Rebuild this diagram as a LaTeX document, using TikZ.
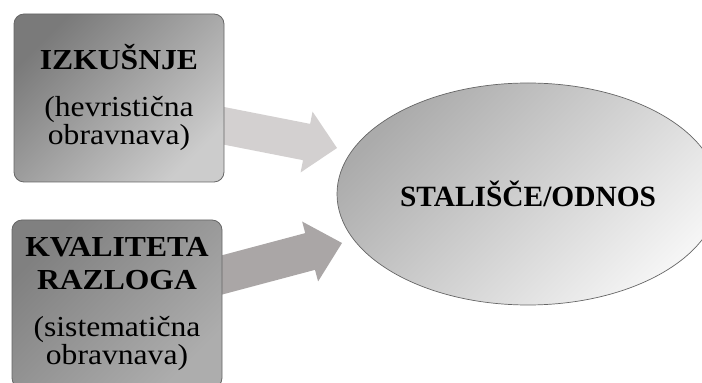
\documentclass[tikz,border=0pt]{standalone}
\usepackage{fontspec}
\setmainfont{Liberation Serif}
\newfontfamily\boxfont[FakeStretch=1.09]{Liberation Serif}
\usetikzlibrary{shapes.geometric}
\begin{document}
\begin{tikzpicture}[x=1pt,y=1pt]
\tikzset{
  card/.style={rounded corners=10pt, draw=black!60, line width=0.8pt,
    minimum width=210pt, minimum height=168pt, inner sep=0pt, align=center,
    font=\boxfont\fontsize{29}{28}\selectfont},
  cardA/.style={card, top color=black!52, bottom color=black!20, shading angle=45},
  cardB/.style={card, top color=black!50, bottom color=black!32, shading angle=45},
  oval/.style={ellipse, draw=black!60, line width=0.7pt, minimum width=382pt,
    minimum height=222pt, inner sep=0pt,
    font=\bfseries\fontsize{29.4}{28}\selectfont,
    top color=black!33, bottom color=black!4, shading angle=45},
}
\useasboundingbox (0,0) rectangle (702,383);
\clip (0,0) rectangle (702,383);

% block arrows, drawn first so the boxes cover their tails
\coordinate (tipA) at (337,235);
\coordinate (tipB) at (342,140);
\begin{scope}[shift={(tipA)}, rotate=-11.1]
  \fill[fill={rgb,255:red,211;green,208;blue,208}]
    (0,0) -- (-31,31) -- (-31,18.5) -- (-128,18.5) -- (-128,-18.5)
    -- (-31,-18.5) -- (-31,-31) -- cycle;
\end{scope}
\begin{scope}[shift={(tipB)}, rotate=14.9]
  \fill[fill={rgb,255:red,170;green,166;blue,166}]
    (0,0) -- (-33,31) -- (-33,19) -- (-136,19) -- (-136,-19)
    -- (-33,-19) -- (-33,-31) -- cycle;
\end{scope}

% source boxes
\node[cardA] (izk) at (119,285)
  {{\bfseries IZKUŠNJE}\\[19pt](hevristična\\obravnava)};
\node[cardB] (kval) at (117,79)
  {{\bfseries KVALITETA}\\[5pt]{\bfseries RAZLOGA}\\[19pt](sistematična\\obravnava)};

% target
\node[oval] (stal) at (528,189) {STALIŠČE/ODNOS};
\end{tikzpicture}
\end{document}
